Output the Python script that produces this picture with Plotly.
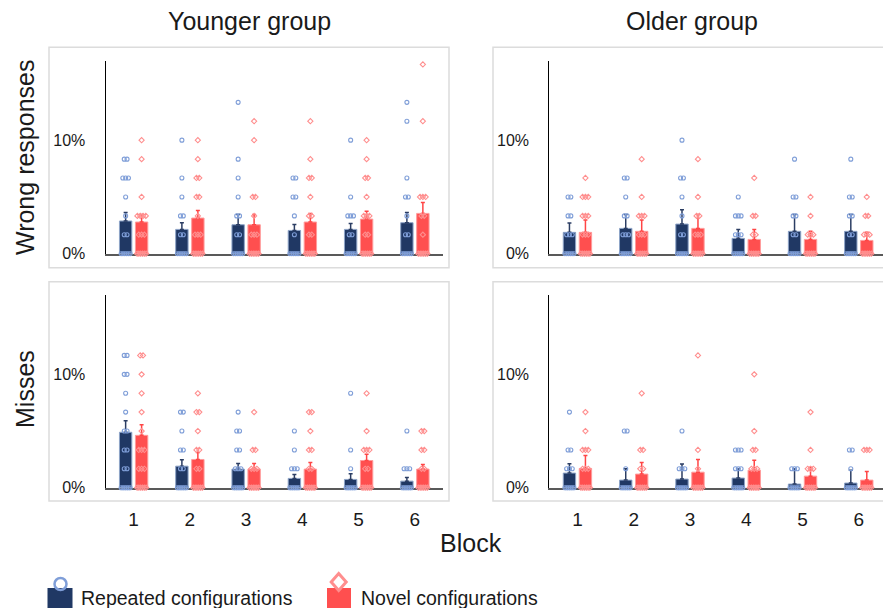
import plotly.graph_objects as go

W, H = 883, 608
# the photographed page comes out slightly squashed vertically; lay out on a stretched grid
Y_STRETCH = 608 / 599
FONT = "Liberation Sans, Arial, sans-serif"

blocks = [1, 2, 3, 4, 5, 6]

# ---- group means (%) and upper standard-error whiskers (%) ----
young_wrong_rep_mean = [2.88, 2.14, 2.55, 2.05, 2.14, 2.73]
young_wrong_rep_err = [0.76, 0.59, 0.91, 0.53, 0.53, 0.91]
young_wrong_nov_mean = [2.79, 3.14, 2.55, 2.79, 3.05, 3.55]
young_wrong_nov_err = [0.67, 0.67, 0.91, 0.76, 0.68, 0.97]

old_wrong_rep_mean = [1.88, 2.23, 2.61, 1.35, 1.97, 1.97]
old_wrong_rep_err = [0.82, 1.23, 1.26, 0.79, 1.49, 1.49]
old_wrong_nov_mean = [1.88, 1.97, 2.23, 1.26, 1.26, 1.17]
old_wrong_nov_err = [1.08, 0.99, 1.23, 0.88, 0.71, 0.71]

young_miss_rep_mean = [4.89, 1.90, 1.64, 0.82, 0.73, 0.58]
young_miss_rep_err = [1.01, 0.56, 0.50, 0.35, 0.50, 0.33]
young_miss_nov_mean = [4.62, 2.49, 1.64, 1.64, 2.40, 1.64]
young_miss_nov_err = [0.94, 0.61, 0.50, 0.58, 0.55, 0.41]

old_miss_rep_mean = [1.29, 0.67, 0.76, 0.85, 0.32, 0.41]
old_miss_rep_err = [0.82, 1.00, 1.34, 0.82, 1.35, 1.14]
old_miss_nov_mean = [1.70, 1.20, 1.37, 1.55, 1.02, 0.67]
old_miss_nov_err = [1.14, 1.02, 1.12, 0.88, 0.76, 0.76]

# ---- individual participants (%), one list per block ----
young_wrong_rep_pts = [
    [0, 0, 0, 0, 0, 0, 1.67, 1.67, 3.33, 5, 6.67, 6.67, 6.67, 8.33, 8.33],
    [0, 0, 0, 0, 0, 0, 1.67, 1.67, 3.33, 3.33, 5, 6.67, 10],
    [0, 0, 0, 0, 0, 0, 1.67, 1.67, 3.33, 3.33, 5, 6.67, 8.33, 13.33],
    [0, 0, 0, 0, 0, 0, 1.67, 3.33, 5, 5, 6.67, 6.67],
    [0, 0, 0, 0, 0, 0, 1.67, 1.67, 3.33, 3.33, 3.33, 5, 10],
    [0, 0, 0, 0, 0, 0, 1.67, 1.67, 3.33, 5, 5, 6.67, 11.67, 13.33],
]
young_wrong_nov_pts = [
    [0, 0, 0, 0, 0, 0, 1.67, 1.67, 1.67, 3.33, 3.33, 3.33, 3.33, 5, 8.33, 10],
    [0, 0, 0, 0, 0, 0, 1.67, 1.67, 1.67, 3.33, 5, 5, 6.67, 6.67, 8.33, 10],
    [0, 0, 0, 0, 0, 0, 1.67, 1.67, 1.67, 3.33, 5, 5, 10, 11.67],
    [0, 0, 0, 0, 0, 0, 1.67, 1.67, 3.33, 3.33, 5, 6.67, 6.67, 8.33, 11.67],
    [0, 0, 0, 0, 0, 0, 1.67, 1.67, 3.33, 3.33, 3.33, 5, 6.67, 6.67, 8.33, 10],
    [0, 0, 0, 0, 0, 0, 1.67, 3.33, 3.33, 5, 5, 5, 11.67, 16.67],
]
old_wrong_rep_pts = [
    [0, 0, 0, 0, 0, 0, 1.67, 1.67, 1.67, 3.33, 3.33, 5, 5],
    [0, 0, 0, 0, 0, 0, 1.67, 1.67, 1.67, 3.33, 3.33, 5, 6.67, 6.67],
    [0, 0, 0, 0, 0, 0, 1.67, 1.67, 3.33, 5, 6.67, 6.67, 10],
    [0, 0, 0, 0, 0, 0, 1.67, 1.67, 1.67, 3.33, 3.33, 3.33, 5],
    [0, 0, 0, 0, 0, 0, 1.67, 1.67, 3.33, 3.33, 5, 5, 8.33],
    [0, 0, 0, 0, 0, 0, 1.67, 1.67, 3.33, 3.33, 5, 5, 8.33],
]
old_wrong_nov_pts = [
    [0, 0, 0, 0, 0, 0, 1.67, 1.67, 1.67, 3.33, 3.33, 3.33, 5, 5, 5, 6.67],
    [0, 0, 0, 0, 0, 0, 1.67, 1.67, 1.67, 3.33, 3.33, 3.33, 5, 8.33],
    [0, 0, 0, 0, 0, 0, 1.67, 1.67, 1.67, 3.33, 3.33, 5, 8.33],
    [0, 0, 0, 0, 0, 0, 1.67, 1.67, 3.33, 3.33, 6.67],
    [0, 0, 0, 0, 0, 0, 1.67, 1.67, 1.67, 3.33, 5],
    [0, 0, 0, 0, 0, 0, 1.67, 1.67, 1.67, 3.33, 3.33, 5],
]
young_miss_rep_pts = [
    [0, 0, 0, 0, 0, 0, 1.67, 1.67, 3.33, 3.33, 5, 5, 6.67, 8.33, 10, 10, 11.67, 11.67],
    [0, 0, 0, 0, 0, 0, 1.67, 1.67, 3.33, 3.33, 5, 6.67, 6.67],
    [0, 0, 0, 0, 0, 0, 1.67, 1.67, 1.67, 3.33, 3.33, 5, 5, 6.67],
    [0, 0, 0, 0, 0, 0, 1.67, 1.67, 1.67, 3.33, 5],
    [0, 0, 0, 0, 0, 0, 1.67, 3.33, 8.33],
    [0, 0, 0, 0, 0, 0, 1.67, 1.67, 1.67, 5],
]
young_miss_nov_pts = [
    [0, 0, 0, 0, 0, 0, 1.67, 1.67, 1.67, 3.33, 3.33, 3.33, 5, 6.67, 8.33, 10, 11.67, 11.67],
    [0, 0, 0, 0, 0, 0, 1.67, 1.67, 3.33, 3.33, 5, 6.67, 6.67, 8.33],
    [0, 0, 0, 0, 0, 0, 1.67, 1.67, 1.67, 3.33, 3.33, 6.67],
    [0, 0, 0, 0, 0, 0, 1.67, 1.67, 3.33, 3.33, 5, 6.67, 6.67],
    [0, 0, 0, 0, 0, 0, 1.67, 1.67, 3.33, 3.33, 3.33, 5, 8.33],
    [0, 0, 0, 0, 0, 0, 1.67, 1.67, 3.33, 3.33, 5, 5],
]
old_miss_rep_pts = [
    [0, 0, 0, 0, 0, 0, 1.67, 1.67, 1.67, 3.33, 3.33, 6.67],
    [0, 0, 0, 0, 0, 0, 1.67, 5, 5],
    [0, 0, 0, 0, 0, 0, 1.67, 1.67, 1.67, 5],
    [0, 0, 0, 0, 0, 0, 1.67, 1.67, 1.67, 3.33, 3.33, 3.33],
    [0, 0, 0, 0, 0, 0, 1.67, 1.67, 1.67],
    [0, 0, 0, 0, 0, 0, 1.67, 3.33, 3.33],
]
old_miss_nov_pts = [
    [0, 0, 0, 0, 0, 0, 1.67, 1.67, 1.67, 3.33, 3.33, 3.33, 5, 6.67],
    [0, 0, 0, 0, 0, 0, 1.67, 1.67, 3.33, 3.33, 8.33],
    [0, 0, 0, 0, 0, 0, 1.67, 3.33, 11.67],
    [0, 0, 0, 0, 0, 0, 1.67, 1.67, 1.67, 3.33, 3.33, 5, 10],
    [0, 0, 0, 0, 0, 0, 1.67, 1.67, 1.67, 3.33, 6.67],
    [0, 0, 0, 0, 0, 0, 3.33, 3.33, 3.33],
]

group_titles = ["Younger group", "Older group"]
row_titles = ["Wrong responses", "Misses"]
legend_labels = ["Repeated configurations", "Novel configurations"]
y_tick_vals = [0, 10]
y_tick_text = ["0%", "10%"]

# ---- styling ----
REP_BAR = "#203864"
REP_EDGE = "#8ea4c8"
REP_ERR = "#2b3d63"
REP_PT = "#7f9ed8"
NOV_BAR = "#ff4f4f"
NOV_EDGE = "#ff9c9c"
NOV_ERR = "#ff4545"
NOV_PT = "#ff8e8e"
BAR_W = 0.22
SHIFT = 0.142


def px(x):
    return x / W


def py(y):
    return 1 - y * Y_STRETCH / H


def swarm(center, values):
    """Spread tied values sideways around the bar centre."""
    xs, ys = [], []
    for v in sorted(set(values)):
        n = values.count(v)
        step = 0.05 if n < 2 else min(0.05, 0.16 / (n - 1))
        for i in range(n):
            xs.append(center + (i - (n - 1) / 2) * step)
            ys.append(v)
    return xs, ys


panels = [
    ("", young_wrong_rep_mean, young_wrong_rep_err, young_wrong_nov_mean, young_wrong_nov_err,
     young_wrong_rep_pts, young_wrong_nov_pts),
    ("2", old_wrong_rep_mean, old_wrong_rep_err, old_wrong_nov_mean, old_wrong_nov_err,
     old_wrong_rep_pts, old_wrong_nov_pts),
    ("3", young_miss_rep_mean, young_miss_rep_err, young_miss_nov_mean, young_miss_nov_err,
     young_miss_rep_pts, young_miss_nov_pts),
    ("4", old_miss_rep_mean, old_miss_rep_err, old_miss_nov_mean, old_miss_nov_err,
     old_miss_rep_pts, old_miss_nov_pts),
]

fig = go.Figure()

for suf, rm, re, nm, ne, rp, npts in panels:
    xa, ya = "x" + suf, "y" + suf
    for means, errs, shift, bar_c, edge_c, err_c in (
        (rm, re, -SHIFT, REP_BAR, REP_EDGE, REP_ERR),
        (nm, ne, SHIFT, NOV_BAR, NOV_EDGE, NOV_ERR),
    ):
        fig.add_trace(go.Bar(
            x=[b + shift for b in blocks], y=means, width=BAR_W,
            marker=dict(color=bar_c, line=dict(color=edge_c, width=1)),
            error_y=dict(type="data", symmetric=False, array=errs,
                         arrayminus=[0] * len(errs), color=err_c,
                         thickness=1.5, width=2),
            xaxis=xa, yaxis=ya, showlegend=False, hoverinfo="skip",
        ))
    for pts, shift, col, sym in ((rp, -SHIFT, REP_PT, "circle-open"),
                                 (npts, SHIFT, NOV_PT, "diamond-open")):
        xs, ys = [], []
        for b, vals in zip(blocks, pts):
            bx, by = swarm(b + shift, vals)
            xs += bx
            ys += by
        fig.add_trace(go.Scatter(
            x=xs, y=ys, mode="markers", cliponaxis=False,
            marker=dict(symbol=sym, size=4, color=col, line=dict(color=col, width=1.1)),
            xaxis=xa, yaxis=ya, showlegend=False, hoverinfo="skip",
        ))

# ---- axes ----
x_dom_left = [px(105.5), px(443)]
x_dom_right = [px(549.3), 1.0]
y_dom_top = [py(253.7), py(60.7)]
y_dom_bot = [py(487.7), py(295)]

layout_axes = {}
spec = [
    ("", x_dom_left, y_dom_top, False, [0.5, 6.5]),
    ("2", x_dom_right, y_dom_top, False, [0.5, 6.43]),
    ("3", x_dom_left, y_dom_bot, True, [0.5, 6.5]),
    ("4", x_dom_right, y_dom_bot, True, [0.5, 6.43]),
]
for suf, xd, yd, show_x, xr in spec:
    layout_axes["xaxis" + suf] = dict(
        domain=xd, anchor="y" + suf, range=xr, tickvals=blocks,
        ticktext=[str(b) for b in blocks], showticklabels=show_x,
        showline=True, linecolor="#595959", linewidth=1.5, layer="below traces",
        showgrid=False, zeroline=False, ticks="", ticklabelstandoff=14,
        tickfont=dict(size=19, color="#1a1a1a", family=FONT), fixedrange=True,
    )
    layout_axes["yaxis" + suf] = dict(
        domain=yd, anchor="x" + suf, range=[0, 17], tickvals=y_tick_vals,
        ticktext=y_tick_text, showline=True, linecolor="#000000", linewidth=1,
        showgrid=False, zeroline=False, ticks="", ticklabelstandoff=16,
        tickfont=dict(size=16, color="#1a1a1a", family=FONT), fixedrange=True,
    )

# ---- panel frames ----
shapes = []
for x0, x1, y0, y1 in ((49, 449, 47.3, 267.7), (493, 890, 47.3, 267.7),
                       (49, 449, 281.7, 501), (493, 890, 281.7, 501)):
    shapes.append(dict(type="rect", xref="paper", yref="paper",
                       x0=px(x0), x1=px(x1), y0=py(y1), y1=py(y0),
                       line=dict(color="#dcdcdc", width=1.5), layer="below"))

# ---- legend keys ----
shapes.append(dict(type="rect", xref="paper", yref="paper", x0=px(47.5), x1=px(72.5),
                   y0=py(625), y1=py(588), fillcolor=REP_BAR, line=dict(width=0)))
shapes.append(dict(type="circle", xref="paper", yref="paper", x0=px(54.5), x1=px(66.5),
                   y0=py(590), y1=py(578), line=dict(color=REP_PT, width=2.5)))
shapes.append(dict(type="rect", xref="paper", yref="paper", x0=px(327), x1=px(351),
                   y0=py(625), y1=py(588), fillcolor=NOV_BAR, line=dict(width=0)))
dx, dy = 7.5 / W, 8.5 * Y_STRETCH / H
cx, cy = px(338.7), py(582)
shapes.append(dict(type="path", xref="paper", yref="paper",
                   path=f"M {cx},{cy + dy} L {cx + dx},{cy} L {cx},{cy - dy} L {cx - dx},{cy} Z",
                   line=dict(color=NOV_PT, width=3), fillcolor="white"))

annotations = [
    dict(text=group_titles[0], x=px(249), y=py(21), font=dict(size=25)),
    dict(text=group_titles[1], x=px(692), y=py(21), font=dict(size=25)),
    dict(text=row_titles[0], x=px(25), y=py(158), textangle=-90, font=dict(size=25)),
    dict(text=row_titles[1], x=px(25), y=py(389), textangle=-90, font=dict(size=25)),
    dict(text="Block", x=px(471), y=py(543), font=dict(size=25)),
    dict(text=legend_labels[0], x=px(79), y=py(598), xanchor="left", font=dict(size=19.5)),
    dict(text=legend_labels[1], x=px(359), y=py(598), xanchor="left", font=dict(size=19.5)),
]
for a in annotations:
    a.update(xref="paper", yref="paper", showarrow=False)
    a.setdefault("xanchor", "center")
    a["yanchor"] = "middle"
    a["font"].update(family=FONT, color="#1a1a1a")

fig.update_layout(
    width=W, height=H, autosize=False, margin=dict(l=0, r=0, t=0, b=0, pad=0),
    paper_bgcolor="white", plot_bgcolor="white",
    barmode="overlay", showlegend=False,
    font=dict(family=FONT, color="#1a1a1a"),
    shapes=shapes, annotations=annotations,
    **layout_axes,
)

fig.write_html("out.html", config=dict(displayModeBar=False, responsive=False))
